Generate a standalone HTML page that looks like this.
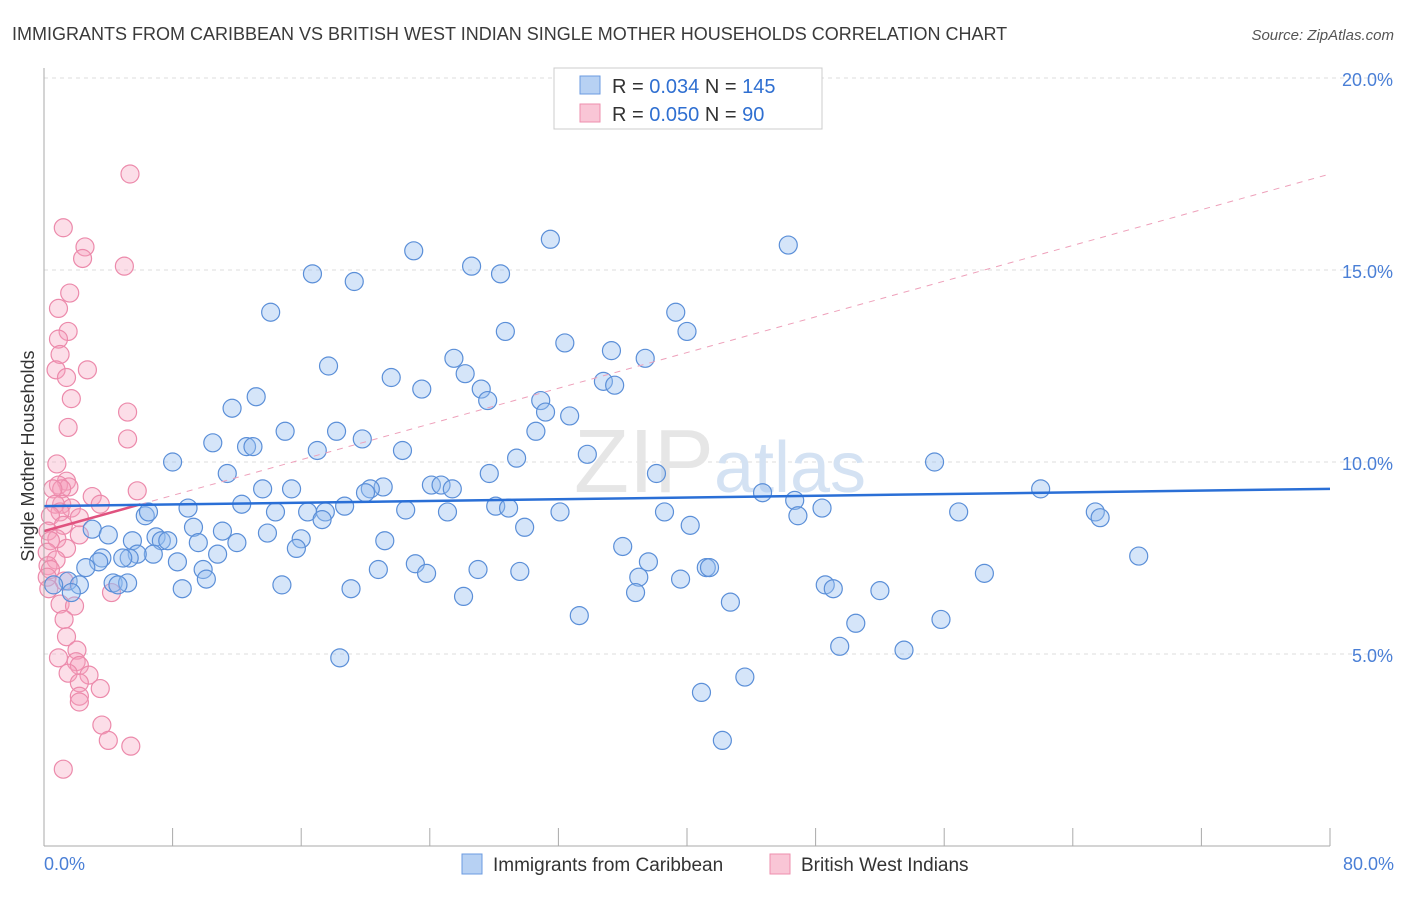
<!DOCTYPE html>
<html><head><meta charset="utf-8"><style>
body{margin:0;background:#fff;font-family:"Liberation Sans",sans-serif;}
svg text{font-family:"Liberation Sans",sans-serif;}
</style></head><body>
<svg id="chart" width="1406" height="892" xmlns="http://www.w3.org/2000/svg">
<text x="12" y="40" font-size="18" fill="#3a3a3a">IMMIGRANTS FROM CARIBBEAN VS BRITISH WEST INDIAN SINGLE MOTHER HOUSEHOLDS CORRELATION CHART</text>
<text x="1394" y="40" font-size="15" fill="#555" text-anchor="end" font-style="italic">Source: ZipAtlas.com</text>
<g id="grid"></g>
<text x="720" y="492" font-size="90" fill="#e6e6e6" text-anchor="middle" font-family="Liberation Serif">ZIP<tspan font-family="Liberation Sans" font-size="72" fill="#d4e2f3">atlas</tspan></text>
<g id="pts"></g>
<g id="trend"></g>
<line x1="44" y1="68" x2="44" y2="846" stroke="#aaa"/>
<line x1="44" y1="846" x2="1330" y2="846" stroke="#aaa"/>
<g id="ticks"></g>
<text transform="translate(34,456) rotate(-90)" font-size="18" fill="#333" text-anchor="middle">Single Mother Households</text>
<text x="44" y="870" font-size="18" fill="#4a7fd6">0.0%</text>
<text x="1394" y="870" font-size="18" fill="#4a7fd6" text-anchor="end">80.0%</text>
<g>
<rect x="554" y="68" width="268" height="61" fill="#fff" stroke="#ccc"/>
<rect x="580" y="76" width="20" height="18" fill="#b7d1f3" stroke="#6b9be0"/>
<rect x="580" y="104" width="20" height="18" fill="#f9c6d6" stroke="#ee8fae"/>
<text x="612" y="93" font-size="20" fill="#333">R = <tspan fill="#2f6fd1">0.034</tspan>   N = <tspan fill="#2f6fd1">145</tspan></text>
<text x="612" y="121" font-size="20" fill="#333">R = <tspan fill="#2f6fd1">0.050</tspan>   N = <tspan fill="#2f6fd1">  90</tspan></text>
</g>
<g>
<rect x="462" y="854" width="20" height="20" fill="#b7d1f3" stroke="#6b9be0"/>
<text x="493" y="871" font-size="19" fill="#333">Immigrants from Caribbean</text></g>
<g>
<rect x="770" y="854" width="20" height="20" fill="#f9c6d6" stroke="#ee8fae"/>
<text x="801" y="871" font-size="19" fill="#333">British West Indians</text></g>
</svg>
<script>
const blueX=[31.5,46.3,23.0,26.6,28.4,16.7,19.3,14.1,39.3,28.7,40.0,32.4,35.3,25.5,37.4,17.7,26.2,21.6,34.8,35.5,23.5,27.2,27.6,13.2,30.9,11.7,31.2,32.7,15.0,18.2,30.6,19.8,10.5,12.6,13.0,17.0,22.3,33.8,29.4,55.4,8.0,11.4,27.7,38.1,24.1,24.7,25.4,21.1,20.3,15.4,13.6,44.7,62.0,20.0,46.7,12.3,18.7,28.1,28.9,8.96,22.5,32.1,48.4,14.4,16.4,17.5,25.1,38.6,56.9,65.4,65.7,46.9,17.3,6.3,6.5,9.3,40.2,29.9,3.0,11.1,13.9,4.0,6.97,7.3,7.7,5.5,21.2,16.0,9.6,12.0,36.0,15.7,10.8,6.8,5.8,5.3,4.9,3.6,68.1,8.3,37.6,23.1,3.4,2.6,20.8,27.0,41.2,41.4,9.9,23.8,29.6,58.5,37.0,10.1,39.6,1.5,4.3,5.2,2.2,0.6,4.6,14.8,48.6,49.1,8.6,19.1,52.0,36.8,26.1,1.7,42.7,33.3,50.5,55.8,49.5,53.5,18.4,43.6,40.9,42.2];
const blueY=[15.8,15.65,15.5,15.1,14.9,14.9,14.7,13.9,13.9,13.4,13.4,13.1,12.9,12.7,12.7,12.5,12.3,12.2,12.1,12.0,11.9,11.9,11.6,11.7,11.6,11.4,11.3,11.2,10.8,10.8,10.8,10.6,10.5,10.4,10.4,10.3,10.3,10.2,10.1,10.0,10.0,9.7,9.7,9.7,9.4,9.4,9.3,9.35,9.3,9.3,9.3,9.2,9.3,9.2,9.0,8.9,8.85,8.85,8.8,8.8,8.75,8.7,8.8,8.7,8.7,8.7,8.7,8.7,8.7,8.7,8.55,8.6,8.5,8.6,8.7,8.3,8.35,8.3,8.25,8.2,8.15,8.1,8.05,7.95,7.95,7.95,7.95,8.0,7.9,7.9,7.8,7.75,7.6,7.6,7.6,7.5,7.5,7.5,7.55,7.4,7.4,7.35,7.4,7.25,7.2,7.2,7.25,7.25,7.2,7.1,7.15,7.1,7.0,6.95,6.95,6.9,6.85,6.85,6.8,6.8,6.8,6.8,6.8,6.7,6.7,6.7,6.65,6.6,6.5,6.6,6.35,6.0,5.8,5.9,5.2,5.1,4.9,4.4,4.0,2.75];
const pinkX=[5.35,1.2,2.55,2.4,5.0,1.6,0.9,1.5,0.9,1.0,2.7,0.75,1.4,1.7,5.2,1.5,5.2,0.8,5.8,1.4,0.9,1.55,1.1,0.55,3.0,3.5,1.1,0.7,1.7,1.0,0.4,2.2,1.2,0.25,2.2,0.8,0.4,1.4,0.2,0.75,0.25,0.4,0.2,1.25,0.3,4.2,1.0,1.9,1.25,1.4,2.05,0.9,2.0,2.2,1.5,2.8,2.2,3.5,2.2,2.2,3.6,4.0,5.4,1.2];
const pinkY=[17.5,16.1,15.6,15.3,15.1,14.4,14.0,13.4,13.2,12.8,12.4,12.4,12.2,11.65,11.3,10.9,10.6,9.95,9.25,9.5,9.4,9.35,9.3,9.3,9.1,8.9,8.9,8.9,8.8,8.7,8.6,8.55,8.35,8.2,8.1,8.0,7.95,7.75,7.65,7.45,7.3,7.2,7.0,6.9,6.7,6.6,6.3,6.25,5.9,5.45,5.1,4.9,4.8,4.7,4.5,4.45,4.25,4.1,3.9,3.75,3.15,2.75,2.6,2.0];
const yTicks=[5,10,15,20];
const yTickLabels=["5.0%","10.0%","15.0%","20.0%"];
const xTicks=[8,16,24,32,40,48,56,64,72,80];
const blueTrend=[8.85,9.3];
const pinkTrend=[8.2,17.5];
const pinkSolidEnd=6;
const sx=v=>44+v*1286/80, sy=v=>846-v*38.4;
const NS="http://www.w3.org/2000/svg";
function mk(t,a,p){const e=document.createElementNS(NS,t);for(const k in a)e.setAttribute(k,a[k]);p.appendChild(e);return e;}
const grid=document.getElementById('grid');
yTicks.forEach((v,i)=>{
 const l=mk('line',{x1:44,x2:1394,y1:sy(v),y2:sy(v),stroke:'#ddd','stroke-dasharray':'4,4'},grid);
 
 
 const t=mk('text',{x:1393,y:sy(v)+8,'font-size':18,fill:'#4a7fd6','text-anchor':'end'},grid);
 t.textContent=yTickLabels[i];
 
 
});
const ticks=document.getElementById('ticks');
xTicks.forEach(v=>{
 const l=mk('line',{x1:sx(v),x2:sx(v),y1:828,y2:846,stroke:'#aaa'},ticks);
 
 
});
const pts=document.getElementById('pts');
pinkX.forEach((x,i)=>{
 const c=mk('circle',{cx:sx(x),cy:sy(pinkY[i]),r:9,fill:'rgba(245,160,190,0.35)',stroke:'#ec8aab','stroke-width':1.2},pts);
 
 
});
blueX.forEach((x,i)=>{
 const c=mk('circle',{cx:sx(x),cy:sy(blueY[i]),r:9,fill:'rgba(150,190,240,0.4)',stroke:'#5b8fd8','stroke-width':1.2},pts);
 
 
});
const tr=document.getElementById('trend');
const pAt=x=>pinkTrend[0]+(pinkTrend[1]-pinkTrend[0])*x/80;
let d=mk('line',{x1:sx(pinkSolidEnd),y1:sy(pAt(pinkSolidEnd)),x2:sx(80),y2:sy(pinkTrend[1]),stroke:'#eea0ba','stroke-dasharray':'6,6','stroke-width':1},tr);


d=mk('line',{x1:sx(0),y1:sy(pinkTrend[0]),x2:sx(pinkSolidEnd),y2:sy(pAt(pinkSolidEnd)),stroke:'#e0527f','stroke-width':2.5},tr);


d=mk('line',{x1:sx(0),y1:sy(blueTrend[0]),x2:sx(80),y2:sy(blueTrend[1]),stroke:'#2a6fd6','stroke-width':2.5},tr);


</script>
</body></html>
